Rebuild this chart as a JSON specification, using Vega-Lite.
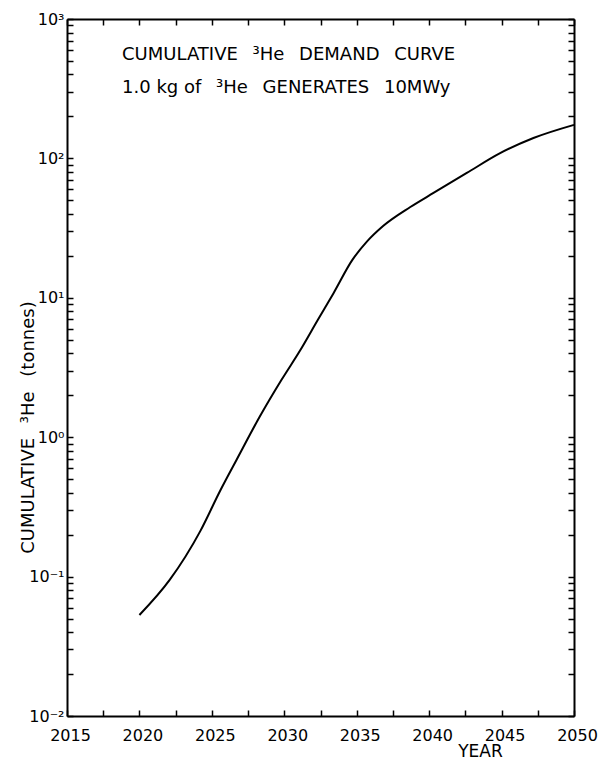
{
  "$schema": "https://vega.github.io/schema/vega-lite/v6.json",
  "width": 507,
  "height": 697,
  "autosize": "none",
  "padding": {"left": 67, "top": 19, "right": 25, "bottom": 44},
  "background": "white",
  "config": {
    "view": {"stroke": null},
    "font": "DejaVu Sans",
    "axis": {
      "grid": false,
      "domainColor": "black",
      "domainWidth": 2,
      "tickColor": "black",
      "tickWidth": 1.5,
      "tickSize": -6,
      "labelFont": "DejaVu Sans",
      "labelFontSize": 16,
      "labelColor": "black",
      "labelOverlap": false,
      "labelFlush": false,
      "titleFont": "DejaVu Sans",
      "titleFontSize": 18,
      "titleFontWeight": "normal",
      "titleColor": "black"
    }
  },
  "data": {
    "values": [
      {"year": 2020.0, "value": 0.053},
      {"year": 2022.1, "value": 0.095},
      {"year": 2024.2, "value": 0.212},
      {"year": 2025.6, "value": 0.418},
      {"year": 2026.7, "value": 0.686},
      {"year": 2028.3, "value": 1.40},
      {"year": 2029.8, "value": 2.57},
      {"year": 2031.1, "value": 4.2},
      {"year": 2032.3, "value": 6.9},
      {"year": 2033.4, "value": 10.8},
      {"year": 2034.7, "value": 18.7},
      {"year": 2035.7, "value": 25.3},
      {"year": 2036.8, "value": 32.6},
      {"year": 2038.7, "value": 44.8},
      {"year": 2040.3, "value": 56.5},
      {"year": 2042.6, "value": 78.6},
      {"year": 2044.9, "value": 109},
      {"year": 2047.2, "value": 140},
      {"year": 2050.0, "value": 174}
    ]
  },
  "layer": [
    {
      "mark": {"type": "line", "interpolate": "monotone", "color": "black", "strokeWidth": 2},
      "encoding": {
        "x": {
          "field": "year", "type": "quantitative",
          "scale": {"domain": [2015, 2050], "nice": false, "zero": false},
          "axis": {
            "orient": "bottom",
            "values": [2015, 2017.5, 2020, 2022.5, 2025, 2027.5, 2030, 2032.5, 2035, 2037.5, 2040, 2042.5, 2045, 2047.5, 2050],
            "labelExpr": "datum.value % 5 == 0 ? toString(datum.value) : ''",
            "labelPadding": 17,
            "labelOffset": 3,
            "title": "YEAR",
            "titleX": 413,
            "titleY": 35,
            "titleFontSize": 17,
            "titleAlign": "center",
            "titleBaseline": "middle"
          }
        },
        "y": {
          "field": "value", "type": "quantitative",
          "scale": {"type": "log", "domain": [0.01, 1000], "nice": false},
          "axis": {
            "orient": "left",
            "values": [0.01, 0.02, 0.03, 0.04, 0.05, 0.06, 0.07, 0.08, 0.09, 0.1, 0.2, 0.3, 0.4, 0.5, 0.6, 0.7, 0.8, 0.9, 1, 2, 3, 4, 5, 6, 7, 8, 9, 10, 20, 30, 40, 50, 60, 70, 80, 90, 100, 200, 300, 400, 500, 600, 700, 800, 900, 1000],
            "labelExpr": "datum.value == 1000 ? '10³' : datum.value == 100 ? '10²' : datum.value == 10 ? '10¹' : datum.value == 1 ? '10⁰' : datum.value == 0.1 ? '10⁻¹' : datum.value == 0.01 ? '10⁻²' : ''",
            "labelPadding": 9,
            "labelBaseline": "middle",
            "title": "CUMULATIVE \u2002³He \u2002(tonnes)",
            "titleX": -39,
            "titleY": 408,
            "titleAlign": "center",
            "titleBaseline": "middle",
            "titleAngle": -90
          }
        }
      }
    },
    {
      "mark": {"type": "line", "opacity": 0},
      "encoding": {
        "x": {
          "field": "year", "type": "quantitative",
          "axis": {
            "orient": "top",
            "values": [2015, 2017.5, 2020, 2022.5, 2025, 2027.5, 2030, 2032.5, 2035, 2037.5, 2040, 2042.5, 2045, 2047.5, 2050],
            "labels": false,
            "title": null
          }
        },
        "y": {
          "field": "value", "type": "quantitative",
          "axis": {
            "orient": "right",
            "values": [0.01, 0.02, 0.03, 0.04, 0.05, 0.06, 0.07, 0.08, 0.09, 0.1, 0.2, 0.3, 0.4, 0.5, 0.6, 0.7, 0.8, 0.9, 1, 2, 3, 4, 5, 6, 7, 8, 9, 10, 20, 30, 40, 50, 60, 70, 80, 90, 100, 200, 300, 400, 500, 600, 700, 800, 900, 1000],
            "labels": false,
            "title": null
          }
        }
      }
    },
    {
      "data": {"values": [{"label": "CUMULATIVE \u2002³He \u2002DEMAND \u2002CURVE"}]},
      "mark": {"type": "text", "align": "left", "baseline": "middle", "fontSize": 18, "color": "black", "font": "DejaVu Sans"},
      "encoding": {
        "x": {"datum": 2018.8, "type": "quantitative", "axis": null},
        "y": {"datum": 552, "type": "quantitative", "axis": null},
        "text": {"field": "label"}
      }
    },
    {
      "data": {"values": [{"label": "1.0 kg of \u2002³He \u2002GENERATES \u200210MWy"}]},
      "mark": {"type": "text", "align": "left", "baseline": "middle", "fontSize": 18, "color": "black", "font": "DejaVu Sans"},
      "encoding": {
        "x": {"datum": 2018.8, "type": "quantitative", "axis": null},
        "y": {"datum": 320, "type": "quantitative", "axis": null},
        "text": {"field": "label"}
      }
    }
  ],
  "resolve": {"axis": {"x": "independent", "y": "independent"}}
}
